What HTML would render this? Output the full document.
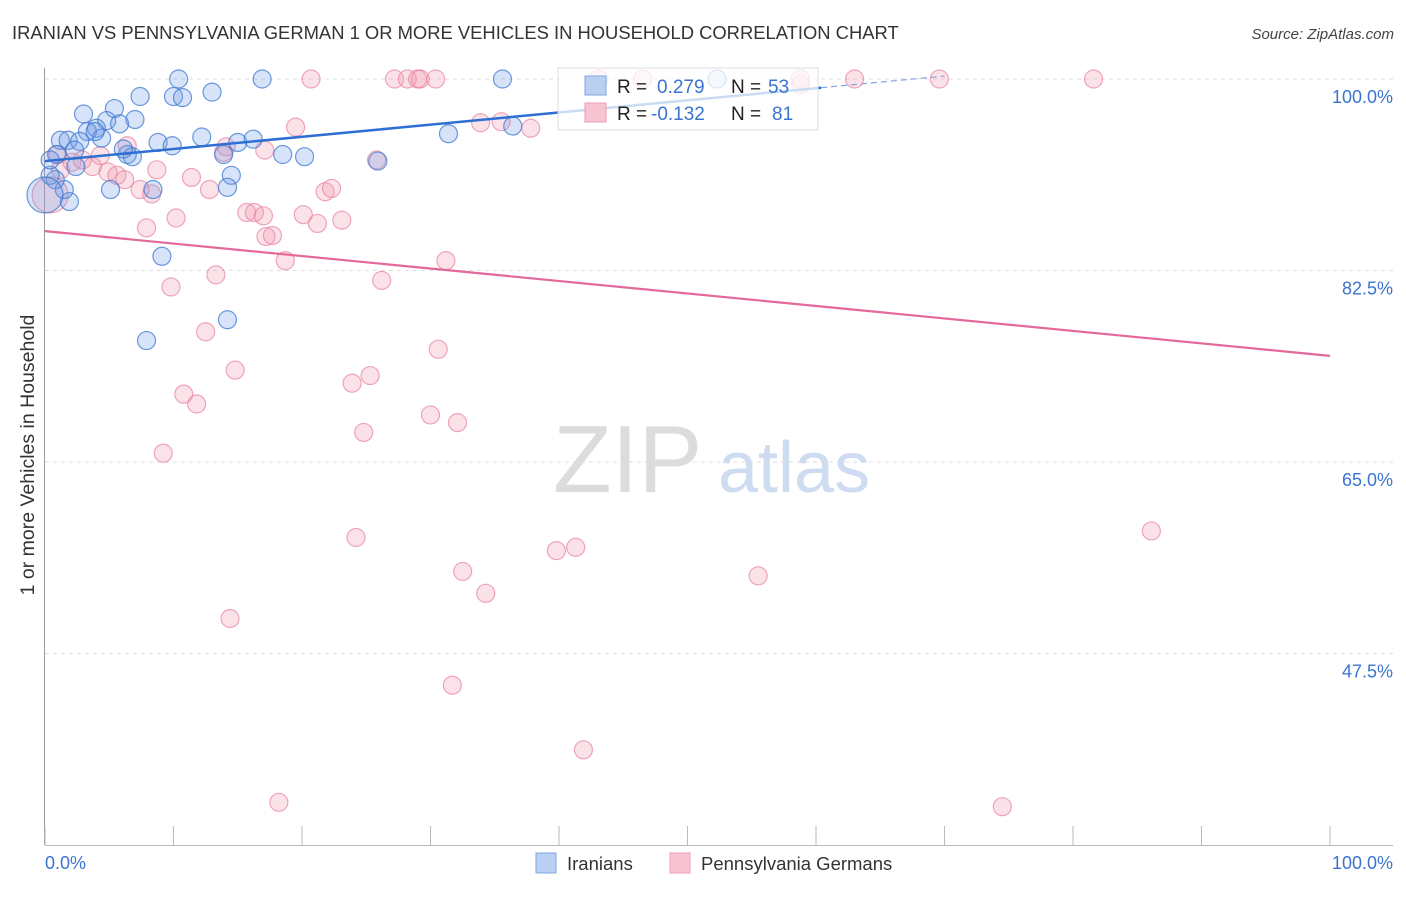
<!DOCTYPE html>
<html><head><meta charset="utf-8"><style>
body{margin:0;background:#fff;font-family:"Liberation Sans",sans-serif;}
svg text{font-family:"Liberation Sans",sans-serif;}
</style></head><body>
<svg id="chart" width="1406" height="892" xmlns="http://www.w3.org/2000/svg">
<text x="12" y="39" font-size="18.4" fill="#333">IRANIAN VS PENNSYLVANIA GERMAN 1 OR MORE VEHICLES IN HOUSEHOLD CORRELATION CHART</text>
<text x="1394" y="39" font-size="15" fill="#444" text-anchor="end" font-style="italic">Source: ZipAtlas.com</text>
<g>
<text x="553" y="492" font-size="96" fill="#dcdcdc" font-family="Liberation Serif,serif">ZIP</text>
<text x="718" y="492" font-size="72" fill="#cddcf0">atlas</text>
</g>
<g id="grid"></g>
<g id="axes"></g>
<g id="pts"></g>
<g id="lines"></g>
<g>
<rect x="558" y="68" width="260" height="62" fill="rgba(255,255,255,0.75)" stroke="#ddd"/>
<rect x="585" y="76" width="21" height="19" fill="#b9d0f2" stroke="#7fa6e0"/>
<rect x="585" y="103" width="21" height="19" fill="#f8c4d2" stroke="#ec9db4"/>
<text x="617" y="93" font-size="19" fill="#222">R =</text>
<text x="657" y="93" font-size="19" fill="#3b74d0">0.279</text>
<text x="731" y="93" font-size="19" fill="#222">N =</text>
<text x="768" y="93" font-size="19" fill="#3b74d0">53</text>
<text x="617" y="120" font-size="19" fill="#222">R =</text>
<text x="651" y="120" font-size="19" fill="#3b74d0">-0.132</text>
<text x="731" y="120" font-size="19" fill="#222">N =</text>
<text x="772" y="120" font-size="19" fill="#3b74d0">81</text>
</g>
<g>
<rect x="536" y="853" width="20" height="20" fill="#b9d0f2" stroke="#7fa6e0"/>
<text x="567" y="870" font-size="18.5" fill="#333">Iranians</text>
<rect x="670" y="853" width="20" height="20" fill="#f8c4d2" stroke="#ec9db4"/>
<text x="701" y="870" font-size="18.5" fill="#333">Pennsylvania Germans</text>
</g>
<text transform="translate(34,455) rotate(-90)" font-size="19.5" fill="#333" text-anchor="middle">1 or more Vehicles in Household</text>
<text x="45" y="869" font-size="18" fill="#3b74d0">0.0%</text>
<text x="1393" y="869" font-size="18" fill="#3b74d0" text-anchor="end">100.0%</text>
</svg>
<script>
const yTicks=[100,82.5,65,47.5];
const yTickLabels=["100.0%","82.5%","65.0%","47.5%"];
const blueX=[10.4,16.9,35.6,52.3,7.4,10.0,10.7,13.0,3.0,5.4,7.0,4.8,4.0,3.3,4.4,5.8,1.2,1.8,2.7,3.9,6.4,6.8,6.1,8.8,9.9,12.2,15.0,16.2,13.9,18.5,20.2,25.9,31.4,36.4,14.5,14.2,8.4,5.1,1.9,1.5,0.8,0.4,0,0.9,2.4,2.3,9.1,14.2,7.9,0.4];
const blueY=[100,100,100,100,98.4,98.4,98.3,98.8,96.8,97.3,96.3,96.2,95.5,95.2,94.6,95.9,94.4,94.4,94.3,95.2,93.1,92.9,93.6,94.2,93.9,94.7,94.2,94.5,93.1,93.1,92.9,92.5,95.0,95.7,91.2,90.1,89.9,89.9,88.8,89.9,90.8,91.2,89.4,93.1,92.0,93.5,83.8,78.0,76.1,92.6];
const blueBig=[0,0,0,0,0,0,0,0,0,0,0,0,0,0,0,0,0,0,0,0,0,0,0,0,0,0,0,0,0,0,0,0,0,0,0,0,0,0,0,0,0,0,1,0,0,0,0,0,0,0];
const pinkX=[20.7,27.2,28.2,29.0,29.2,30.4,43.1,46.5,58.8,63.0,69.6,81.6,58.8,19.5,33.9,35.5,37.8,25.8,13.9,17.1,1.0,2.1,2.9,3.7,4.3,4.9,5.6,6.2,7.4,8.3,8.7,11.4,12.8,15.7,16.3,17.0,17.2,17.7,20.1,21.2,21.8,22.3,23.1,10.2,7.9,13.3,9.8,18.7,26.2,31.2,12.5,14.8,10.8,11.8,23.9,25.3,30.6,30.0,32.1,24.8,9.2,24.2,32.5,34.3,39.8,41.3,55.5,86.1,14.4,31.7,41.9,18.2,74.5,0.4,1.2,6.4,14.1];
const pinkY=[100,100,100,100,100,100,100,100,100,100,100,100,99.5,95.6,96.0,96.1,95.5,92.6,93.3,93.5,93.1,92.4,92.6,92.0,93.0,91.5,91.2,90.8,89.9,89.5,91.7,91.0,89.9,87.8,87.8,87.5,85.6,85.7,87.6,86.8,89.7,90.0,87.1,87.3,86.4,82.1,81.0,83.4,81.6,83.4,76.9,73.4,71.2,70.3,72.2,72.9,75.3,69.3,68.6,67.7,65.8,58.1,55.0,53.0,56.9,57.2,54.6,58.7,50.7,44.6,38.7,33.9,33.5,89.4,91.7,93.9,93.8];
const blueTrend=[92.5,0.111];
const pinkTrend=[86.1,-0.114];
const NS="http://www.w3.org/2000/svg";
const sx=v=>45+v*12.85;
const sy=v=>79+(100-v)*10.943;
function mk(tag,attrs,parent){const e=document.createElementNS(NS,tag);for(const k in attrs)e.setAttribute(k,attrs[k]);parent.appendChild(e);return e;}
const grid=document.getElementById('grid'),axes=document.getElementById('axes'),pts=document.getElementById('pts'),lines=document.getElementById('lines');
yTicks.forEach((t,i)=>{
  const l=mk('line',{x1:45,x2:1393,y1:sy(t),y2:sy(t),stroke:'#ddd','stroke-dasharray':'4,4'},grid);
  
  
  const tx=mk('text',{x:1393,y:sy(t)+24,'font-size':18,fill:'#3b74d0','text-anchor':'end'},axes);
  tx.textContent=yTickLabels[i];
  
  
});
mk('line',{x1:44.5,x2:44.5,y1:68,y2:845,stroke:'#999'},axes);
mk('line',{x1:45,x2:1393,y1:845.5,y2:845.5,stroke:'#bbb'},axes);
for(let i=0;i<=10;i++){const t=mk('line',{x1:sx(i*10),x2:sx(i*10),y1:826,y2:845,stroke:'#bbb'},axes);
  
  }
function dots(X,Y,big,fill,stroke,name){X.forEach((x,i)=>{
  const c=mk('circle',{cx:sx(x),cy:sy(Y[i]),r:(big&&big[i])?18:9,fill:fill,stroke:stroke,'stroke-width':1.2},pts);
  
  });}
dots(pinkX,pinkY,pinkX.map((x,i)=>i===73?1:0),'rgba(242,150,175,0.28)','rgba(232,130,160,0.7)','pennsylvania-german-point');
dots(blueX,blueY,blueBig,'rgba(110,155,230,0.28)','rgba(60,120,210,0.75)','iranian-point');
const bl=mk('line',{x1:sx(0),y1:sy(blueTrend[0]),x2:sx(60.4),y2:sy(blueTrend[0]+blueTrend[1]*60.4),stroke:'#2d6fd2','stroke-width':2.5},lines);


const bd=mk('line',{x1:sx(60.4),y1:sy(blueTrend[0]+blueTrend[1]*60.4),x2:sx(70),y2:sy(blueTrend[0]+blueTrend[1]*70),stroke:'#7fa6e0','stroke-width':1.2,'stroke-dasharray':'6,4'},lines);


const pl=mk('line',{x1:sx(0),y1:sy(pinkTrend[0]),x2:sx(100),y2:sy(pinkTrend[0]+pinkTrend[1]*100),stroke:'#e4689a','stroke-width':2.2},lines);


</script>
</body></html>
